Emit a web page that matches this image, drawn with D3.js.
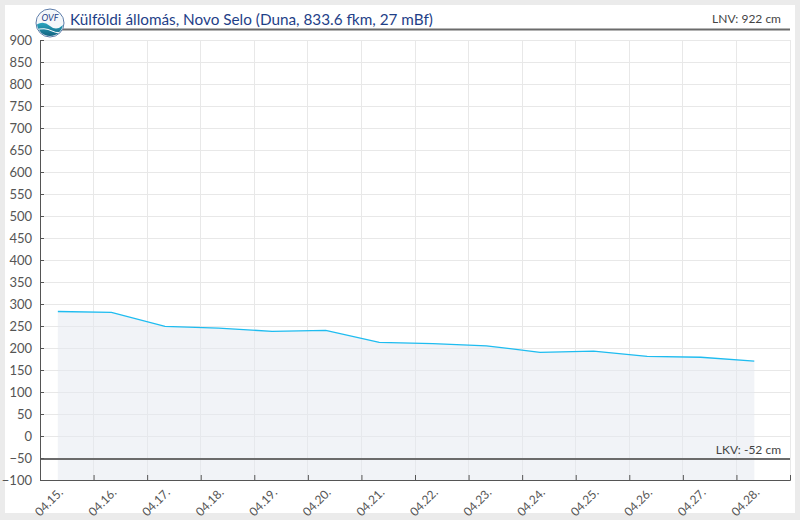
<!DOCTYPE html>
<html><head><meta charset="utf-8">
<script src="https://cdn.jsdelivr.net/npm/d3@7"></script>
<style>
body{margin:0;background:#ebebeb;}
svg{display:block;font-family:Lato,"Open Sans",sans-serif;}
</style></head>
<body>
<svg id="c" width="800" height="520"></svg>
<script>
const title = "Külföldi állomás, Novo Selo (Duna, 833.6 fkm, 27 mBf)";
const dates = ["2024-04-15","2024-04-16","2024-04-17","2024-04-18","2024-04-19","2024-04-20","2024-04-21","2024-04-22","2024-04-23","2024-04-24","2024-04-25","2024-04-26","2024-04-27","2024-04-28"];
const levels = [283, 281, 249, 245, 238, 240, 213, 210, 205, 190, 193, 181, 179, 170];
const yTicks = [900,850,800,750,700,650,600,550,500,450,400,350,300,250,200,150,100,50,0,-50,-100];
const xTickLabels = ["04.15.","04.16.","04.17.","04.18.","04.19.","04.20.","04.21.","04.22.","04.23.","04.24.","04.25.","04.26.","04.27.","04.28."];
const lnv = 922, lkv = -52;

const svg = d3.select("#c");
svg.append("rect").attr("x",5).attr("y",5).attr("width",790).attr("height",508).attr("fill","#fff");

const parse = d3.timeParse("%Y-%m-%d");
const data = dates.map((d,i)=>({t:d3.timeHour.offset(parse(d),8), v:levels[i]}));
const x = d3.scaleTime().domain([parse("2024-04-15"), parse("2024-04-29")]).range([40,790]);
const y = d3.scaleLinear().domain([-100,900]).range([480,40]);
const tickDates = dates.map(parse);

// grid
const g = svg.append("g");
g.selectAll(".hg").data(yTicks).join("line")
  .attr("x1",40).attr("x2",790).attr("y1",d=>y(d)).attr("y2",d=>y(d))
  .attr("stroke","#e8e8e8").attr("stroke-width",1).attr("shape-rendering","crispEdges");
g.selectAll(".vg").data(tickDates.slice(1).concat([parse("2024-04-29")])).join("line")
  .attr("x1",d=>x(d)).attr("x2",d=>x(d)).attr("y1",40).attr("y2",480)
  .attr("stroke","#e8e8e8").attr("stroke-width",1).attr("shape-rendering","crispEdges");

// area
svg.append("path").datum(data)
  .attr("d", d3.area().x(d=>x(d.t)).y0(y(-100)).y1(d=>y(d.v)))
  .attr("fill","#e4e7f0").attr("fill-opacity",0.5);

// LKV line
svg.append("line").attr("x1",40).attr("x2",790).attr("y1",y(lkv)).attr("y2",y(lkv))
  .attr("stroke","#6b6b6b").attr("stroke-width",2);
svg.append("text").attr("x",781).attr("y",y(lkv)-5).attr("text-anchor","end")
  .attr("font-size",12).attr("fill","#444").text("LKV: "+lkv+" cm");

// data line
svg.append("path").datum(data)
  .attr("d", d3.line().x(d=>x(d.t)).y(d=>y(d.v)))
  .attr("fill","none").attr("stroke","#1ebcf0").attr("stroke-width",1.3);

// axes
const yAxis = d3.axisLeft(y).tickValues(yTicks).tickSize(-4).tickPadding(8).tickFormat(d3.format("d"));
const ya = svg.append("g").attr("transform","translate(40,0)").call(yAxis);
ya.select(".domain").attr("stroke","#555").attr("d","M0.5,40V480.5");
ya.selectAll(".tick line").attr("stroke","#555");
ya.selectAll(".tick text").attr("fill","#555").attr("font-size",13).attr("font-family","Lato,sans-serif");

const xAxis = d3.axisBottom(x).tickValues(tickDates.concat([parse("2024-04-29")])).tickSize(-5)
  .tickFormat((d,i)=> i<xTickLabels.length ? xTickLabels[i] : "");
const xa = svg.append("g").attr("transform","translate(0,480)").call(xAxis);
xa.select(".domain").attr("stroke","#555");
xa.selectAll(".tick line").attr("stroke","#555");
xa.selectAll(".tick text").attr("fill","#555").attr("font-size",12).attr("font-family","Lato,sans-serif")
  .attr("text-anchor","end").attr("transform","translate(16,6) rotate(-45)").attr("dy","0.6em").attr("dx","0");

// LNV line and title
svg.append("line").attr("x1",60).attr("x2",790).attr("y1",29.5).attr("y2",29.5)
  .attr("stroke","#6b6b6b").attr("stroke-width",2);
svg.append("text").attr("x",781).attr("y",23).attr("text-anchor","end")
  .attr("font-size",12).attr("fill","#444").text("LNV: "+lnv+" cm");
svg.append("text").attr("x",70).attr("y",25).attr("font-size",15.3).attr("fill","#1f3f88").text(title);

// logo
const defs = svg.append("defs");
const lg = defs.append("linearGradient").attr("id","lg").attr("x1",0).attr("y1",0).attr("x2",0).attr("y2",1);
lg.append("stop").attr("offset","0").attr("stop-color","#2aa6c0");
lg.append("stop").attr("offset","1").attr("stop-color","#0b4f6e");
defs.append("clipPath").attr("id","lc").append("circle").attr("cx",50).attr("cy",23).attr("r",13);
svg.append("circle").attr("cx",50).attr("cy",23).attr("r",14).attr("fill","#fff").attr("stroke","#5a7aa8").attr("stroke-width",1);
const lgrp = svg.append("g").attr("clip-path","url(#lc)");
lgrp.append("circle").attr("cx",50).attr("cy",23).attr("r",13).attr("fill","#f4f7fa");
lgrp.append("path").attr("d","M36,25 Q43,20 50,26 T64,24 V40 H36 Z").attr("fill","url(#lg)");
lgrp.append("path").attr("d","M36,30 Q44,27 52,31 T64,29").attr("fill","none").attr("stroke","#fff").attr("stroke-width",1);
svg.append("text").attr("x",50).attr("y",21).attr("text-anchor","middle").attr("font-size",9)
  .attr("font-style","italic").attr("fill","#1f3f88").text("OVF");
</script>
</body></html>
